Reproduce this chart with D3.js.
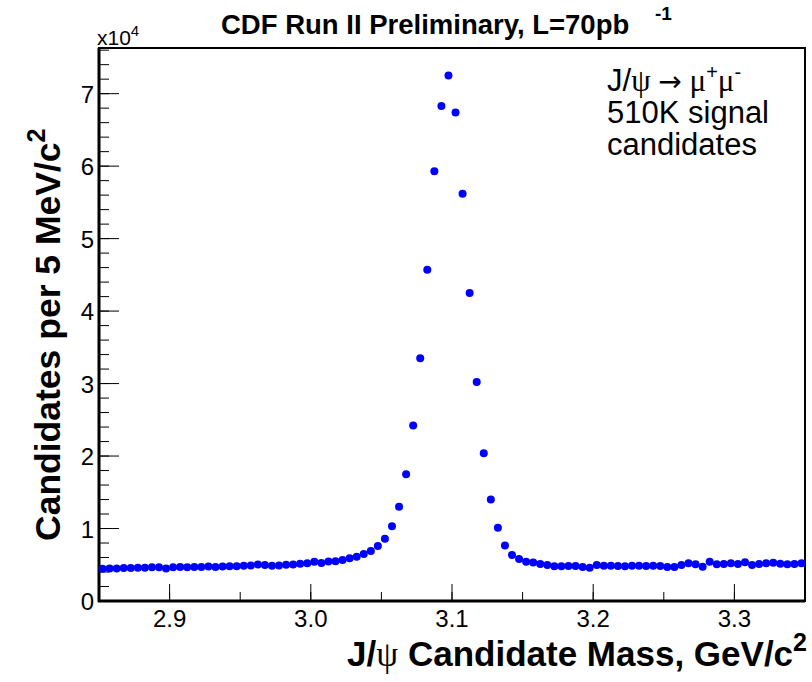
<!DOCTYPE html>
<html><head><meta charset="utf-8">
<script src="https://cdn.jsdelivr.net/npm/d3@7"></script>
<style>body{margin:0;background:#fff}svg{display:block}</style>
</head><body>
<svg id="c" width="812" height="682"></svg>
<script>
// Histogram: J/psi candidate mass, 5 MeV bins from 2.85 to 3.35 GeV/c^2
const binLow = 2.85;
const binWidth = 0.005;
const counts = [
  4450, 4500, 4500, 4550, 4550, 4600, 4600, 4650, 4650, 4500, 4650, 4700, 4650, 4700, 4700, 4750, 4700, 4750, 4800, 4800, 4850, 4900, 5050, 4950,
  4850, 4900, 5000, 5050, 5150, 5200, 5400, 5250, 5450, 5500, 5650, 5900, 6100, 6500, 6900,
  7600, 8600, 10300, 13000, 17500, 24200, 33500, 45700, 59300, 68300, 72500, 67400, 56200, 42500, 30200, 20400, 14000, 10100, 7650, 6350, 5800, 5400, 5300,
  5100, 4970, 4780, 4780, 4830, 4830, 4690, 4600, 4970, 4870, 4870, 4830, 4780, 4870, 4870, 4830,
  4870, 4830, 4690, 4690, 4970, 5200, 5060, 4740, 5420, 5060, 5100, 5200, 5100, 5330, 4970, 5100, 5200, 5290, 5150, 5060, 5100, 5200
];
const xTickValues = [2.9, 3.0, 3.1, 3.2, 3.3];
const xTickLabels = ["2.9", "3.0", "3.1", "3.2", "3.3"];
const yTickValues = [0, 10000, 20000, 30000, 40000, 50000, 60000, 70000];
const yTickLabels = ["0", "1", "2", "3", "4", "5", "6", "7"];

const svg = d3.select("#c");
const L = 99, R = 805, T = 48, B = 601;
const x = d3.scaleLinear().domain([2.85, 3.35]).range([L, R]);
const y = d3.scaleLinear().domain([0, 76300]).range([B, T]);
const sans = "Liberation Sans, Arial, Helvetica, sans-serif";
const serif = "Liberation Serif, Times New Roman, serif";

// minor ticks
const xMinor = d3.range(2.85, 3.3501, 0.05);
const yMinor = d3.range(0, 76300, 2000);
const g = svg.append("g");
g.selectAll(".xm").data(xMinor).join("line")
  .attr("x1", d => x(d)).attr("x2", d => x(d)).attr("y1", B).attr("y2", B - 9)
  .attr("stroke", "#000").attr("stroke-width", 1);
g.selectAll(".xM").data(xTickValues).join("line")
  .attr("x1", d => x(d)).attr("x2", d => x(d)).attr("y1", B).attr("y2", B - 17)
  .attr("stroke", "#000").attr("stroke-width", 1);
g.selectAll(".ym").data(yMinor).join("line")
  .attr("x1", L).attr("x2", L + 10).attr("y1", d => y(d)).attr("y2", d => y(d))
  .attr("stroke", "#000").attr("stroke-width", 1);
g.selectAll(".yM").data(yTickValues).join("line")
  .attr("x1", L).attr("x2", L + 20).attr("y1", d => y(d)).attr("y2", d => y(d))
  .attr("stroke", "#000").attr("stroke-width", 1);

// frame
svg.append("rect").attr("x", L).attr("y", T).attr("width", R - L).attr("height", B - T)
  .attr("fill", "none").attr("stroke", "#000").attr("stroke-width", 2);
svg.append("line").attr("x1", L).attr("x2", L).attr("y1", T).attr("y2", B + 1).attr("stroke", "#000").attr("stroke-width", 3);
svg.append("line").attr("x1", L - 1).attr("x2", R).attr("y1", B).attr("y2", B).attr("stroke", "#000").attr("stroke-width", 3);

// tick labels
svg.selectAll(".xl").data(xTickValues).join("text")
  .attr("x", d => x(d)).attr("y", 627).attr("text-anchor", "middle")
  .attr("font-family", sans).attr("font-size", 24).text((d, i) => xTickLabels[i]);
svg.selectAll(".yl").data(yTickValues).join("text")
  .attr("x", 94).attr("y", d => y(d) + 9).attr("text-anchor", "end")
  .attr("font-family", sans).attr("font-size", 24).text((d, i) => yTickLabels[i]);

// exponent
const ex = svg.append("text").attr("x", 97).attr("y", 45).attr("font-family", sans).attr("font-size", 21);
ex.append("tspan").text("x10");
ex.append("tspan").attr("dy", -9).attr("font-size", 15).text("4");

// points
svg.append("g").selectAll("circle").data(counts).join("circle")
  .attr("cx", (d, i) => x(binLow + (i + 0.5) * binWidth))
  .attr("cy", d => y(d)).attr("r", 4).attr("fill", "#0000ff");

// title
svg.append("text").attr("x", 221).attr("y", 34).attr("font-family", sans).attr("font-weight", "bold")
  .attr("font-size", 27.5).text("CDF Run II Preliminary, L=70pb");
svg.append("text").attr("x", 655).attr("y", 20).attr("font-family", sans).attr("font-weight", "bold")
  .attr("font-size", 19).text("-1");

// x axis title
const xt = svg.append("text").attr("x", 807).attr("y", 666).attr("text-anchor", "end")
  .attr("font-family", sans).attr("font-weight", "bold").attr("font-size", 35);
xt.append("tspan").text("J/");
xt.append("tspan").attr("font-family", serif).attr("font-weight", "normal").text("ψ");
xt.append("tspan").text(" Candidate Mass, GeV/c");
xt.append("tspan").attr("dy", -15).attr("font-size", 25).text("2");

// y axis title
const yt = svg.append("text").attr("transform", "translate(60,541) rotate(-90)")
  .attr("font-family", sans).attr("font-weight", "bold").attr("font-size", 35.5);
yt.append("tspan").text("Candidates per 5 MeV/c");
yt.append("tspan").attr("dy", -15).attr("font-size", 25).text("2");

// legend text
const lg = svg.append("g").attr("font-family", sans).attr("font-size", 31);
const l1 = lg.append("text").attr("x", 607).attr("y", 91);
l1.append("tspan").text("J/");
l1.append("tspan").attr("font-family", serif).text("ψ ");
l1.append("tspan").attr("font-family", "DejaVu Sans").attr("font-size", 28).text("→");
l1.append("tspan").attr("font-family", serif).text(" μ");
l1.append("tspan").attr("dy", -12).attr("font-size", 20).text("+");
l1.append("tspan").attr("dy", 12).attr("font-family", serif).text("μ");
l1.append("tspan").attr("dy", -12).attr("font-size", 20).text("-");
lg.append("text").attr("x", 607).attr("y", 123).text("510K signal");
lg.append("text").attr("x", 607).attr("y", 155).text("candidates");
</script>
</body></html>
